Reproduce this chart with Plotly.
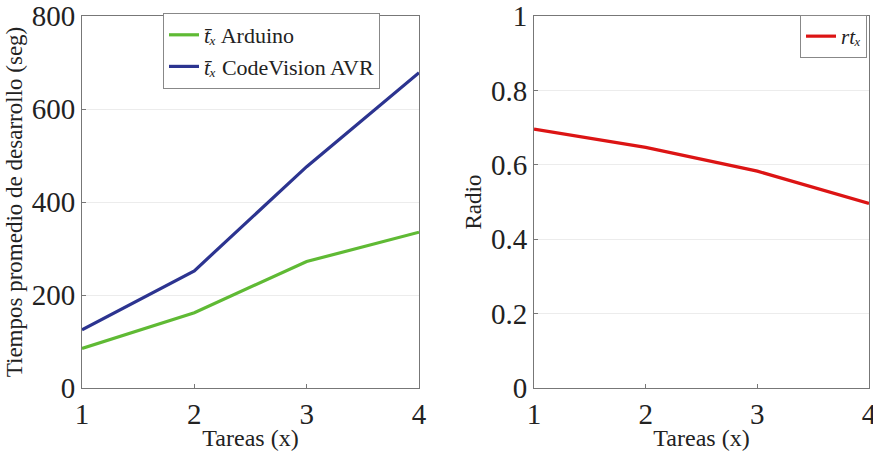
import plotly.graph_objects as go

tareas = [1, 2, 3, 4]
arduino = [85, 162, 272, 335]
codevision = [125, 252, 476, 678]
radio = [0.696, 0.647, 0.583, 0.496]

W, H = 873, 457
serif = "Liberation Serif"

fig = go.Figure()
fig.add_trace(go.Scatter(x=tareas, y=arduino, mode="lines",
                         line=dict(color="#5fba34", width=3.2),
                         name="<i>t̄ₓ</i> Arduino",
                         xaxis="x", yaxis="y", legend="legend"))
fig.add_trace(go.Scatter(x=tareas, y=codevision, mode="lines",
                         line=dict(color="#2c3490", width=3.2),
                         name="<i>t̄ₓ</i> CodeVision AVR",
                         xaxis="x", yaxis="y", legend="legend"))
fig.add_trace(go.Scatter(x=tareas, y=radio, mode="lines",
                         line=dict(color="#dc1414", width=3.2),
                         name="<i>rtₓ</i>",
                         xaxis="x2", yaxis="y2", legend="legend2"))

def ax(**kw):
    d = dict(showline=True, linecolor="#777", linewidth=1, mirror=True,
             ticks="inside", ticklen=4, tickcolor="#777",
             tickfont=dict(family=serif, size=29, color="#222"),
             ticklabeloverflow="allow",
             zeroline=False, automargin=False)
    d.update(kw)
    return d

ydom = [(H - 388) / H, (H - 16) / H]
fig.update_layout(
    width=W, height=H,
    margin=dict(l=0, r=0, t=0, b=0),
    paper_bgcolor="white", plot_bgcolor="white",
    font=dict(family=serif, color="#222"),
    xaxis=ax(domain=[82 / W, 419 / W], range=[1, 4], tickvals=[1, 2, 3, 4],
             showgrid=False, anchor="y",
             title=dict(text="Tareas (x)", font=dict(family=serif, size=24), standoff=0)),
    yaxis=ax(domain=ydom, range=[0, 800], tickvals=[0, 200, 400, 600, 800],
             showgrid=True, gridcolor="#ececec", anchor="x",
             title=dict(text="Tiempos promedio de desarrollo (seg)",
                        font=dict(family=serif, size=23), standoff=2)),
    xaxis2=ax(domain=[534 / W, 869 / W], range=[1, 4], tickvals=[1, 2, 3, 4],
              showgrid=False, anchor="y2",
              title=dict(text="Tareas (x)", font=dict(family=serif, size=24), standoff=0)),
    yaxis2=ax(domain=ydom, range=[0, 1], tickvals=[0, 0.2, 0.4, 0.6, 0.8, 1],
              ticktext=["0", "0.2", "0.4", "0.6", "0.8", "1"],
              showgrid=True, gridcolor="#ececec", anchor="x2",
              title=dict(text="Radio", font=dict(family=serif, size=23), standoff=2)),
    legend=dict(x=163 / W, y=(H - 13) / H, xanchor="left", yanchor="top",
                bgcolor="white", bordercolor="#888", borderwidth=1,
                font=dict(family=serif, size=22, color="#222"),
                tracegroupgap=0, itemwidth=30),
    legend2=dict(x=867 / W, y=(H - 15) / H, xanchor="right", yanchor="top",
                 bgcolor="white", bordercolor="#888", borderwidth=1,
                 font=dict(family=serif, size=21, color="#222"),
                 itemwidth=30),
    showlegend=True,
)

fig.write_html("out.html", config={"displayModeBar": False},
               post_script="document.body.style.margin='0px';"
                           "document.body.style.overflow='hidden';")
